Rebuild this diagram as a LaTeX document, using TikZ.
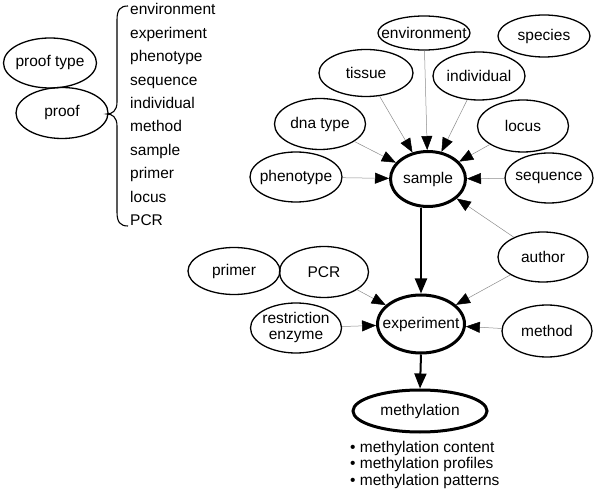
\documentclass[tikz,border=0pt]{standalone}
\usepackage{fontspec}
\setmainfont{Liberation Sans}
\usetikzlibrary{shapes.geometric,arrows.meta}
\newcommand\ctr[1]{\makebox[0pt]{#1}}
\tikzset{
  ell/.style={ellipse, draw=black, line width=1.3pt, inner sep=0pt, font=\fontsize{15.5}{17}\selectfont},
  bold/.style={line width=3pt},
  thin arrow/.style={draw=black!45, line width=0.5pt, -{Triangle[length=14pt,width=11pt,color=black]}},
  thick arrow/.style={draw=black, line width=2pt, -{Triangle[length=15pt,width=12pt]}},
  listtxt/.style={anchor=base west, inner sep=0pt, font=\fontsize{15.5}{17}\selectfont}
}
\begin{document}
\begin{tikzpicture}[x=1pt,y=-1pt]
\useasboundingbox (0,0) rectangle (600,494);
% left part
\node[ell, minimum width=93, minimum height=50] (prooftype) at (50,63) {\ctr{proof type}};
\node[ell, minimum width=92, minimum height=51] (proof) at (62,113) {\ctr{proof}};
\draw[line width=1.1pt] (128,6) .. controls (120,6) and (117,10) .. (117,20) -- (117,102)
  .. controls (117,111) and (112,114) .. (107,114) .. controls (112,114) and (117,117) .. (117,126)
  -- (117,212) .. controls (117,222) and (120,226) .. (128,226);
\foreach \t [count=\i from 0] in {environment,experiment,phenotype,sequence,individual,method,sample,primer,locus,PCR}
  \node[listtxt] (l\i) at (130,{15+23.4*\i}) {\t};
% main graph
\node[ell, minimum width=92, minimum height=34] (env) at (424,33) {\ctr{environment}};
\node[ell, minimum width=92, minimum height=42] (species) at (544,36) {\ctr{species}};
\node[ell, minimum width=94, minimum height=47] (tissue) at (366,73) {\ctr{tissue}};
\node[ell, minimum width=92, minimum height=48] (indiv) at (479,76) {\ctr{individual}};
\node[ell, minimum width=91, minimum height=51] (dna) at (320,124) {\ctr{dna type}};
\node[ell, minimum width=91, minimum height=52] (locus) at (523,126) {\ctr{locus}};
\node[ell, minimum width=92, minimum height=50] (pheno) at (296,177) {\ctr{phenotype}};
\node[ell, bold, minimum width=75, minimum height=55] (sample) at (428,179) {\ctr{sample}};
\node[ell, minimum width=88, minimum height=50] (seq) at (549,178) {\ctr{sequence}};
\node[ell, minimum width=90, minimum height=50] (author) at (543,257) {\ctr{author}};
\node[ell, minimum width=92, minimum height=47] (primer) at (234,271) {\ctr{primer}};
\node[ell, minimum width=89, minimum height=51] (pcr) at (324,272) {\ctr{PCR}};
\node[ell, minimum width=91, minimum height=50] (restr) at (296,328)
  {\ctr{\begin{tabular}{@{}c@{}}restriction\\[-1pt]enzyme\end{tabular}}};
\node[ell, bold, minimum width=87, minimum height=58] (exper) at (421,324) {\ctr{experiment}};
\node[ell, minimum width=90, minimum height=52] (method) at (547,331) {\ctr{method}};
\node[ell, bold, minimum width=134, minimum height=42] (meth) at (420,411) {\ctr{methylation}};
\node[anchor=north west, align=left, inner sep=0pt, font=\fontsize{15.5}{16.5}\selectfont] (mlist) at (350,441)
  {• methylation content\\• methylation profiles\\• methylation patterns};
% connectors
\draw[thin arrow] (pheno) -- (sample);
\draw[thin arrow] (dna) -- (sample);
\draw[thin arrow] (tissue) -- (sample);
\draw[thin arrow] (env) -- (sample);
\draw[thin arrow] (indiv) -- (sample);
\draw[thin arrow] (locus) -- (sample);
\draw[thin arrow] (seq) -- (sample);
\draw[thin arrow] (author) -- (sample);
\draw[thin arrow] (pcr) -- (exper);
\draw[thin arrow] (restr) -- (exper);
\draw[thin arrow] (author) -- (exper);
\draw[thin arrow] (method) -- (exper);
\draw[thick arrow] (sample.south -| exper.north) -- (exper.north);
\draw[thick arrow] (exper.south) -- (meth.north);
\end{tikzpicture}
\end{document}
